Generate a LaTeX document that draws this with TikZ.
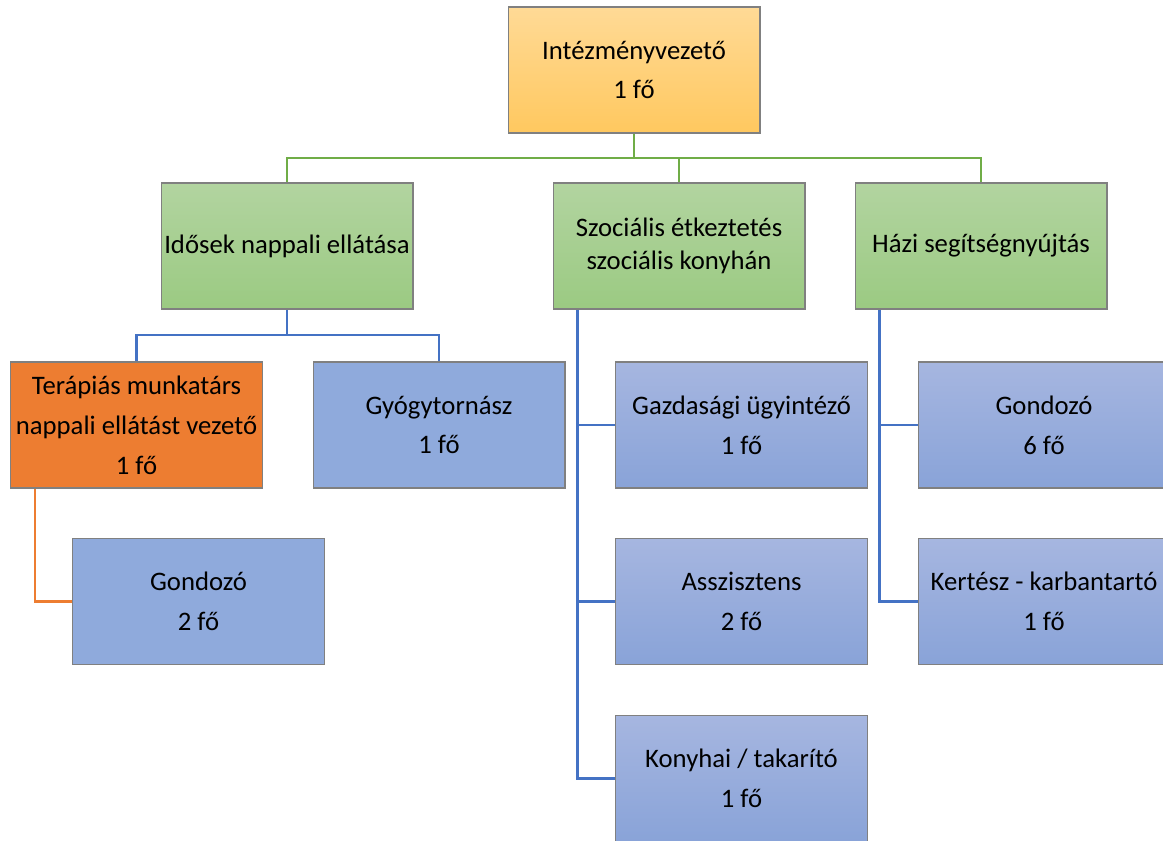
\documentclass[tikz,border=0pt]{standalone}
\usepackage{fontspec}
\setmainfont{Carlito}
\definecolor{boxline}{RGB}{128,128,128}
\definecolor{vezTop}{RGB}{255,218,150}
\definecolor{vezBot}{RGB}{255,200,95}
\definecolor{grTop}{RGB}{178,212,160}
\definecolor{grBot}{RGB}{155,202,130}
\definecolor{blTop}{RGB}{166,182,224}
\definecolor{blBot}{RGB}{137,163,216}
\definecolor{blFlat}{RGB}{143,170,220}
\definecolor{orFill}{RGB}{237,125,49}
\definecolor{grLine}{RGB}{112,173,71}
\definecolor{blLine}{RGB}{68,114,196}
\tikzset{
  box/.style={draw=boxline,line width=0.6pt,minimum width=5.04cm,minimum height=2.52cm,
    inner sep=0pt,align=center,font=\fontsize{15.2}{22.7}\selectfont},
  vezbox/.style={box,top color=vezTop,bottom color=vezBot},
  grbox/.style={box,top color=grTop,bottom color=grBot},
  blbox/.style={box,top color=blTop,bottom color=blBot},
  flatbox/.style={box,fill=blFlat},
  orbox/.style={box,fill=orFill},
  greenline/.style={grLine,line width=1.3pt},
  blueline/.style={blLine,line width=1.3pt},
  orangeline/.style={orFill,line width=1.3pt}
}
\begin{document}
\begin{tikzpicture}[x=0.02cm,y=-0.02cm]
	\useasboundingbox (0,0) rectangle (1163,840);
	\clip (0,0) rectangle (1163,840);
	% vezeto
	\node[vezbox] (vez) at (634,70) {Intézményvezető\\1 fő};
	% szakmai egysegek
	\node[grbox] (idos) at (287,246) {Idősek nappali ellátása};
	\node[grbox,font=\fontsize{15.2}{18.7}\selectfont] (szoc) at (679,246) {Szociális étkeztetés\\szociális konyhán};
	\node[grbox] (hazi) at (981,246) {Házi segítségnyújtás};
	% nappali ellatas
	\node[orbox] (terap) at (136.5,425) {Terápiás munkatárs\\nappali ellátást vezető\\1 fő};
	\node[flatbox] (gyogy) at (439,425) {Gyógytornász\\1 fő};
	\node[flatbox] (gond2) at (198.5,601.5) {Gondozó\\2 fő};
	% konyha
	\node[blbox] (gazd) at (741.5,425) {Gazdasági ügyintéző\\1 fő};
	\node[blbox] (asszi) at (741.5,601.5) {Asszisztens\\2 fő};
	\node[blbox] (konyha) at (741.5,778.5) {Konyhai / takarító\\1 fő};
	% hazi segitseg
	\node[blbox] (gond6) at (1044,425) {Gondozó\\6 fő};
	\node[blbox] (kert) at (1044,601.5) {Kertész - karbantartó\\1 fő};

	% connectors
	\coordinate (gbus) at (634,158);
	\draw[greenline] (vez.south) -- (gbus);
	\draw[greenline] (idos.north) |- (gbus) -| (hazi.north);
	\draw[greenline] (szoc.north) -- (szoc.north |- gbus);
	\coordinate (bbus) at (287,335);
	\draw[blueline] (idos.south) -- (bbus);
	\draw[blueline] (terap.north) |- (bbus) -| (gyogy.north);
	\draw[orangeline] (terap.south west) ++(25,0) |- (gond2.west);
	\draw[blueline] (szoc.south west) ++(25,0) coordinate (mtop) |- (konyha.west);
	\draw[blueline] (gazd.west) -- (gazd.west -| mtop);
	\draw[blueline] (asszi.west) -- (asszi.west -| mtop);
	\draw[blueline] (hazi.south west) ++(25,0) |- (kert.west);
	\draw[blueline] (gond6.west) -- ++(-37,0);
\end{tikzpicture}
\end{document}
